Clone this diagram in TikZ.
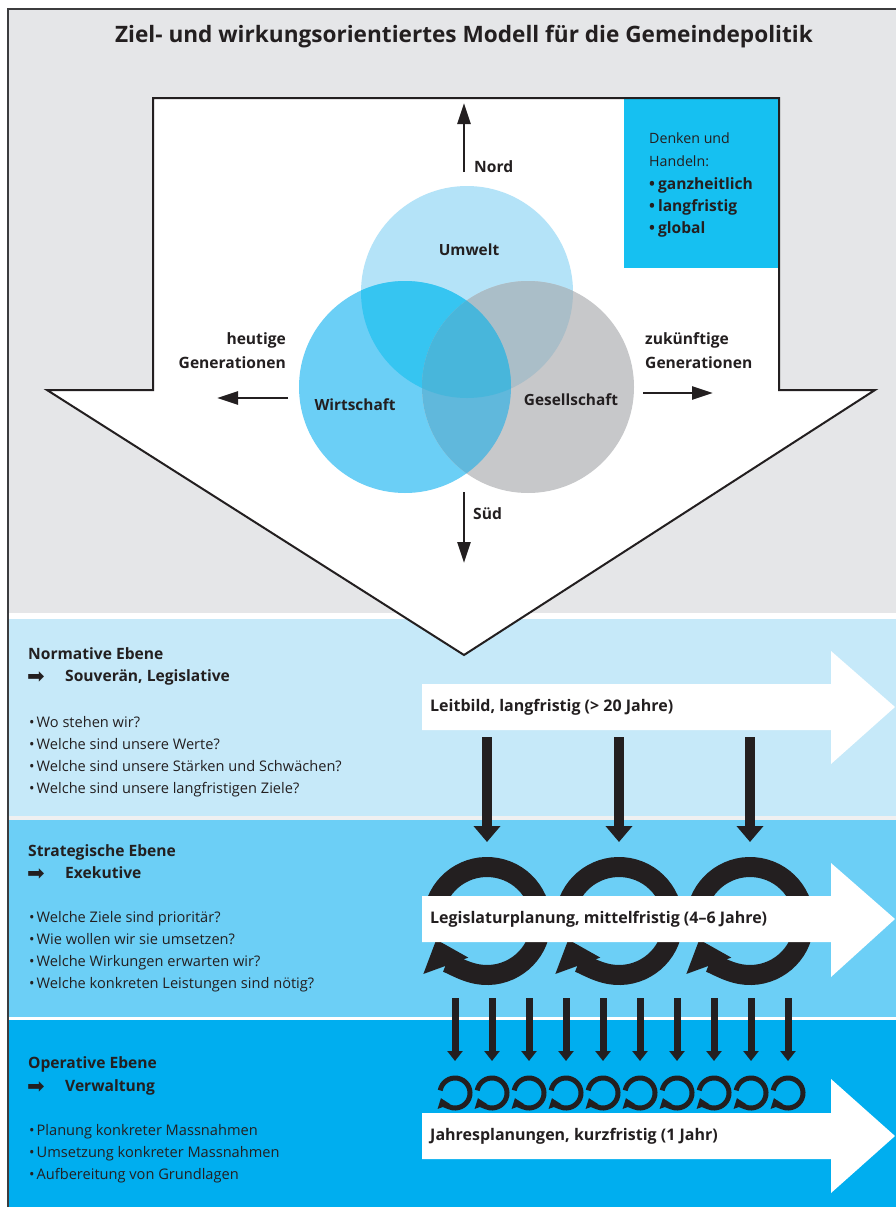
\documentclass[tikz,border=0pt]{standalone}
\usepackage{fontspec}
\setmainfont{Open Sans}
\newfontfamily\symfont{DejaVu Sans}
\usetikzlibrary{arrows.meta,calc}

\definecolor{ink}{HTML}{231F20}
\definecolor{rahmen}{HTML}{3C3C3E}
\definecolor{bgGrau}{HTML}{E5E6E8}
\definecolor{bandA}{HTML}{C6E9F9}
\definecolor{bandB}{HTML}{6CCFF6}
\definecolor{bandC}{HTML}{00AEEF}
\definecolor{denkBlau}{HTML}{16C0F1}
\definecolor{umweltCol}{HTML}{B4E3F8}
\definecolor{wirtCol}{HTML}{6BCFF6}
\definecolor{gesCol}{HTML}{C7C8CA}
\definecolor{uwCol}{HTML}{36C5F1}
\definecolor{ugCol}{HTML}{AABEC8}
\definecolor{wgCol}{HTML}{60B8DC}
\definecolor{uwgCol}{HTML}{48B6DB}

\begin{document}
\begin{tikzpicture}[x=1pt, y=1pt,
  ebeneText/.style={font=\bfseries\fontsize{15.6}{18}\selectfont, text=ink,
                    anchor=base west, inner sep=0pt},
  frageText/.style={font=\fontsize{14.6}{16}\selectfont, text=ink,
                    anchor=base west, inner sep=0pt},
  kreisText/.style={font=\bfseries\fontsize{15.4}{18}\selectfont, text=ink,
                    anchor=base, inner sep=0pt},
  bandText/.style={font=\bfseries\fontsize{16}{18}\selectfont, text=ink,
                   anchor=west, inner sep=0pt},
  pfeilZeichen/.style={font=\symfont\fontsize{21}{22}\selectfont, text=ink,
                       anchor=base west, inner sep=0pt},
  richtung/.style={draw=ink, line width=2.6pt,
                   -{Triangle[length=21pt,width=13pt]}},
  grossPfeil/.style={draw=ink, line width=10pt,
                     -{Triangle[length=16pt,width=26pt]}},
  kleinPfeil/.style={draw=ink, line width=7pt,
                     -{Triangle[length=10pt,width=15pt]}},
  grossRing/.style={draw=ink, line width=20pt,
                    -{Triangle[length=28pt,width=46pt]}},
  kleinRing/.style={draw=ink, line width=5pt,
                    -{Triangle[length=9pt,width=13pt]}}
]
  \useasboundingbox (0,0) rectangle (896,-1207);
  \fill[white] (0,0) rectangle (896,-1207);

  % Hintergrund und Ebenen
  \fill[bgGrau] (8,-9) rectangle (896,-613);
  \fill[bandA] (8,-619) rectangle (896,-816);
  \fill[bgGrau!60!white] (8,-816) rectangle (896,-820);
  \fill[bandB] (8,-820) rectangle (896,-1017);
  \fill[bandC] (8,-1020) rectangle (896,-1207);
  \draw[rahmen, line width=1.5pt] (8,-1215) -- (8,-9) -- (905,-9);

  % Titel
  \node[font=\bfseries\fontsize{22.6}{26}\selectfont, text=ink, anchor=base]
    (titel) at (464,-43) {Ziel- und wirkungsorientiertes Modell für die Gemeindepolitik};

  % Grosser Pfeil nach unten
  \coordinate (spitze) at (464,-655);
  \fill[white] (153,-98) -- (779,-98) -- (779,-390) -- (875,-390) -- (spitze)
    -- (47,-390) -- (153,-390) -- cycle;
  \fill[denkBlau] (624,-98) rectangle (779,-268);
  \draw[ink, line width=2pt, line join=miter] (153,-98) -- (779,-98) -- (779,-390)
    -- (875,-390) -- (spitze) -- (47,-390) -- (153,-390) -- cycle;

  % Denken und Handeln
  \node[frageText, font=\fontsize{14.2}{16}\selectfont] (denk1) at (649,-143) {Denken und};
  \node[frageText, font=\fontsize{14.2}{16}\selectfont] (denk2) at (649,-166) {Handeln:};
  \foreach \txt [count=\i] in {ganzheitlich, langfristig, global}
    \node[ebeneText] (denkP\i) at (649,-189-22*\i+22) {•\hspace{3pt}\txt};

  % Drei Kreise
  \coordinate (U) at (467,-292);
  \coordinate (W) at (405,-387);
  \coordinate (G) at (528,-387);
  \fill[umweltCol] (U) circle[radius=106];
  \fill[wirtCol] (W) circle[radius=106];
  \fill[gesCol] (G) circle[radius=106];
  \begin{scope}
    \clip (U) circle[radius=106];
    \fill[uwCol] (W) circle[radius=106];
    \fill[ugCol] (G) circle[radius=106];
  \end{scope}
  \begin{scope}
    \clip (W) circle[radius=106];
    \fill[wgCol] (G) circle[radius=106];
    \clip (U) circle[radius=106];
    \fill[uwgCol] (G) circle[radius=106];
  \end{scope}
  \node[kreisText] (umwelt) at (469,-255) {Umwelt};
  \node[kreisText] (wirtschaft) at (355,-410) {Wirtschaft};
  \node[kreisText] (gesellschaft) at (571,-405) {Gesellschaft};

  % Himmelsrichtungen
  \coordinate (nordA) at (464,-172);
  \coordinate (nordB) at (464,-103);
  \coordinate (suedA) at (464,-492);
  \coordinate (suedB) at (464,-563);
  \coordinate (westA) at (288,-398);
  \coordinate (westB) at (217,-398);
  \coordinate (ostA) at (643,-393);
  \coordinate (ostB) at (713,-393);
  \draw[richtung] (nordA) -- (nordB);
  \draw[richtung] (suedA) -- (suedB);
  \draw[richtung] (westA) -- (westB);
  \draw[richtung] (ostA) -- (ostB);
  \node[ebeneText] (nord) at (474,-172) {Nord};
  \node[ebeneText] (sued) at (473,-519) {Süd};
  \node[ebeneText, anchor=base east] (heute1) at (286,-344) {heutige};
  \node[ebeneText, anchor=base east] (heute2) at (286,-368) {Generationen};
  \node[ebeneText] (zukunft1) at (645,-344) {zukünftige};
  \node[ebeneText] (zukunft2) at (645,-368) {Generationen};

  % Normative Ebene
  \node[ebeneText] (normativ) at (28,-659) {Normative Ebene};
  \node[pfeilZeichen] (normPf) at (27,-683) {➡};
  \node[ebeneText] (souveraen) at (65,-681) {Souverän, Legislative};
  \foreach \txt [count=\i] in {Wo stehen wir?, Welche sind unsere Werte?,
      Welche sind unsere Stärken und Schwächen?, Welche sind unsere langfristigen Ziele?}
    \node[frageText] (normF\i) at (29,-705-22*\i) {•\hspace{2pt}\txt};

  % Strategische Ebene
  \node[ebeneText] (strategisch) at (28,-856) {Strategische Ebene};
  \node[pfeilZeichen] (stratPf) at (27,-880) {➡};
  \node[ebeneText] (exekutive) at (65,-878) {Exekutive};
  \foreach \txt [count=\i] in {Welche Ziele sind prioritär?, Wie wollen wir sie umsetzen?,
      Welche Wirkungen erwarten wir?, Welche konkreten Leistungen sind nötig?}
    \node[frageText] (stratF\i) at (29,-900-22*\i) {•\hspace{2pt}\txt};

  % Operative Ebene
  \node[ebeneText] (operativ) at (28,-1068) {Operative Ebene};
  \node[pfeilZeichen] (opPf) at (27,-1093) {➡};
  \node[ebeneText] (verwaltung) at (65,-1091) {Verwaltung};
  \foreach \txt [count=\i] in {Planung konkreter Massnahmen, Umsetzung konkreter Massnahmen,
      Aufbereitung von Grundlagen}
    \node[frageText] (opF\i) at (29,-1113-22*\i) {•\hspace{2pt}\txt};

  % Kreislaeufe (mittelfristig)
  \foreach \x [count=\i] in {487,619,750} {
    \coordinate (ring\i) at (\x,-921);
    \draw[grossRing] (ring\i) ++(170:54) arc[start angle=170, end angle=-160, radius=54];
  }
  % Kreislaeufe (kurzfristig)
  \foreach \i in {1,...,10} {
    \coordinate (kring\i) at (418+37*\i,-1093);
    \draw[kleinRing] (kring\i) ++(170:15) arc[start angle=170, end angle=-160, radius=15];
  }

  % Zeitpfeile
  \fill[white] (422,-684) -- (831,-684) -- (831,-651) -- (895,-707) -- (831,-764)
    -- (831,-730) -- (422,-730) -- cycle;
  \node[bandText] (leitbild) at (430,-707) {Leitbild, langfristig (> 20 Jahre)};
  \fill[white] (422,-896) -- (831,-896) -- (831,-863) -- (895,-919) -- (831,-977)
    -- (831,-942) -- (422,-942) -- cycle;
  \node[bandText] (legislatur) at (430,-919) {Legislaturplanung, mittelfristig (4–6 Jahre)};
  \fill[white] (422,-1113) -- (831,-1113) -- (831,-1079) -- (895,-1136) -- (831,-1193)
    -- (831,-1159) -- (422,-1159) -- cycle;
  \node[bandText] (jahr) at (430,-1136) {Jahresplanungen, kurzfristig (1 Jahr)};

  % Pfeile zwischen den Ebenen
  \foreach \i in {1,2,3}
    \draw[grossPfeil] (ring\i |- 0,-737) -- (ring\i |- 0,-842);
  \foreach \i in {1,...,10}
    \draw[kleinPfeil] (kring\i |- 0,-998) -- (kring\i |- 0,-1061);
\end{tikzpicture}
\end{document}
